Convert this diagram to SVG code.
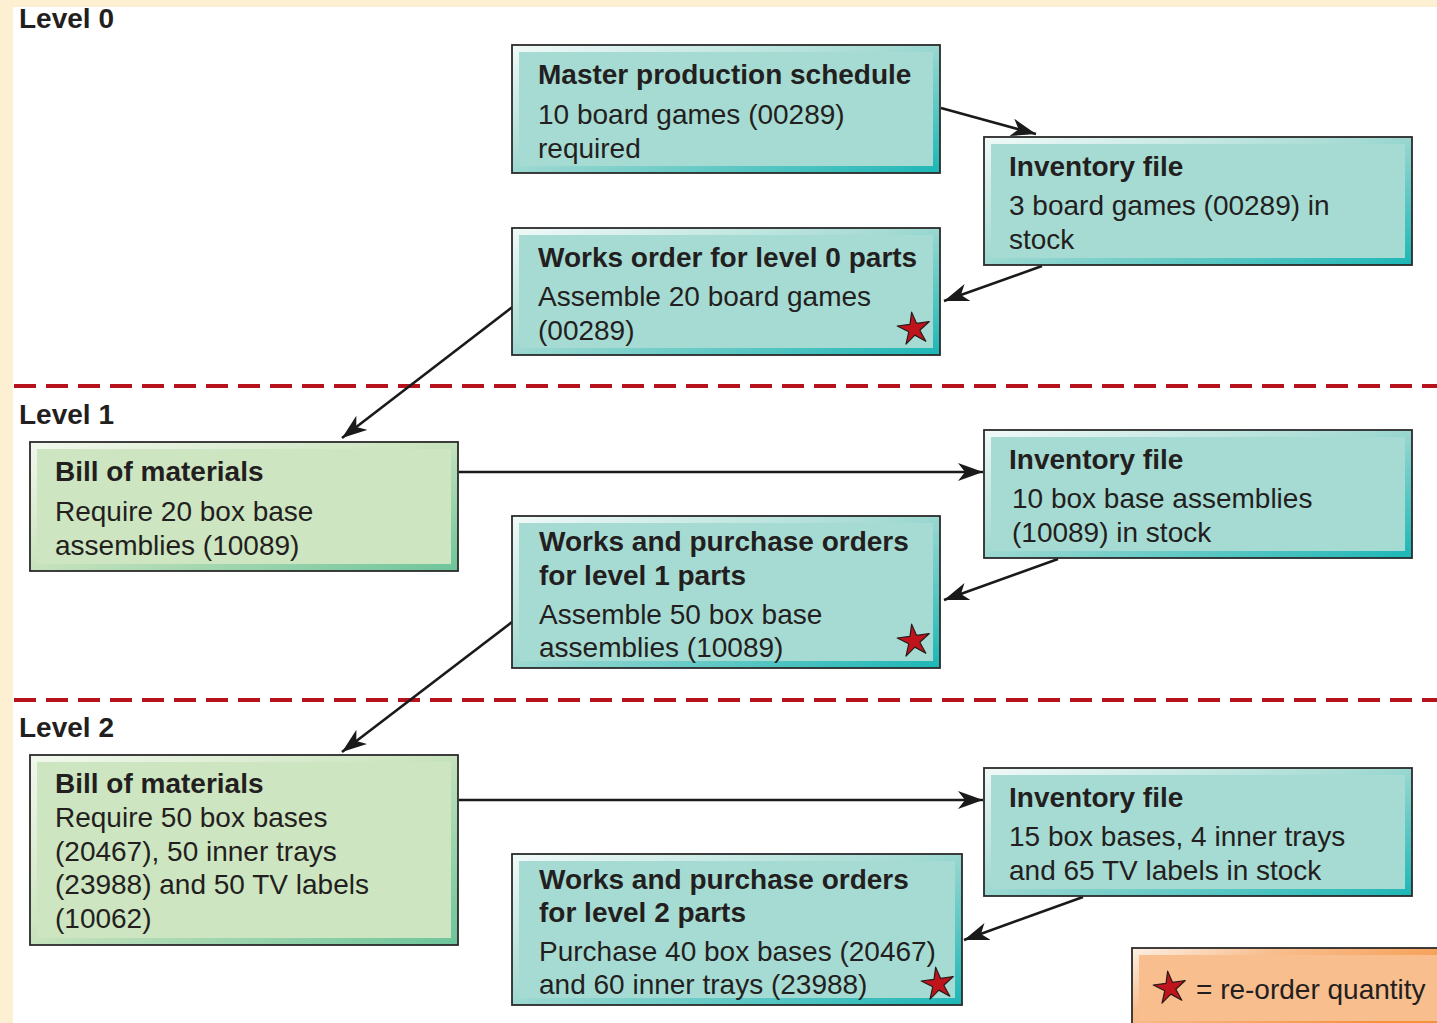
<svg xmlns="http://www.w3.org/2000/svg" width="1437" height="1023" viewBox="0 0 1437 1023">
  <defs>
    <linearGradient id="tealFrame" x1="0" y1="0" x2="1" y2="1">
      <stop offset="0" stop-color="#f2faf9"/>
      <stop offset="0.45" stop-color="#a6dbd3"/>
      <stop offset="1" stop-color="#1bb6b6"/>
    </linearGradient>
    <linearGradient id="greenFrame" x1="0" y1="0" x2="1" y2="1">
      <stop offset="0" stop-color="#f2f8ee"/>
      <stop offset="0.45" stop-color="#cde5c0"/>
      <stop offset="1" stop-color="#6cc49a"/>
    </linearGradient>
    <linearGradient id="orangeFrame" x1="0" y1="0" x2="1" y2="0.6">
      <stop offset="0" stop-color="#fdf1e6"/>
      <stop offset="0.35" stop-color="#f9be8e"/>
      <stop offset="1" stop-color="#f5913c"/>
    </linearGradient>
    <marker id="arrow" markerUnits="userSpaceOnUse" markerWidth="28" markerHeight="20" refX="25" refY="9" orient="auto">
      <path d="M0,0 L25,9 L0,18 L7,9 Z" fill="#1a1a1a"/>
    </marker>
    <path id="star" transform="rotate(-8)" d="M0,-17 L3.3,-5.2 L16.2,-5.3 L5.6,2.0 L10.0,13.8 L0,6.2 L-10.0,13.8 L-5.6,2.0 L-16.2,-5.3 L-3.3,-5.2 Z" fill="#c0141c" stroke="#2a1a1a" stroke-width="1.2" stroke-linejoin="round"/>
  </defs>
  <style>
    text { font-family: "Liberation Sans", Arial, sans-serif; font-size: 28px; fill: #231f20; }
    .b { font-weight: bold; }
    .outer { stroke: #2b2b2b; stroke-width: 1.8; }
    .teal { fill: url(#tealFrame); }
    .green { fill: url(#greenFrame); }
    .tin { fill: #a6dbd3; }
    .gin { fill: #cde5c0; }
    .conn { stroke: #1a1a1a; stroke-width: 2.6; fill: none; marker-end: url(#arrow); }
    .dash { stroke: #b5121b; stroke-width: 4; stroke-dasharray: 22 10; fill: none; }
  </style>

  <!-- background -->
  <rect x="0" y="0" width="1437" height="1023" fill="#ffffff"/>
  <rect x="0" y="0" width="1437" height="7" fill="#fdf0d2"/>
  <rect x="0" y="0" width="13" height="1023" fill="#fdf0d2"/>

  <!-- level separators and labels -->
  <g id="levels">
    <line class="dash" x1="14" y1="386" x2="1437" y2="386"/>
    <line class="dash" x1="14" y1="700" x2="1437" y2="700"/>
    <text class="b" x="19" y="28">Level 0</text>
    <text class="b" x="19" y="424">Level 1</text>
    <text class="b" x="19" y="737">Level 2</text>
  </g>

  <!-- connectors -->
  <g id="connectors">
    <line class="conn" x1="941" y1="108" x2="1036" y2="134"/>
    <line class="conn" x1="1042" y1="266" x2="944" y2="301"/>
    <line class="conn" x1="515" y1="305" x2="342" y2="438"/>
    <line class="conn" x1="459" y1="472" x2="983" y2="472"/>
    <line class="conn" x1="1058" y1="559" x2="944" y2="600"/>
    <line class="conn" x1="512" y1="622" x2="342" y2="752"/>
    <line class="conn" x1="459" y1="800" x2="983" y2="800"/>
    <line class="conn" x1="1083" y1="897" x2="964" y2="940"/>
  </g>

  <g id="mps">
    <rect class="outer teal" x="512" y="45" width="428" height="128"/>
    <rect class="tin" x="519" y="52" width="414" height="114"/>
    <text class="b" x="538" y="84">Master production schedule</text>
    <text x="538" y="124">10 board games (00289)</text>
    <text x="538" y="158">required</text>
  </g>

  <g id="inventory0">
    <rect class="outer teal" x="984" y="137" width="428" height="128"/>
    <rect class="tin" x="991" y="144" width="414" height="114"/>
    <text class="b" x="1009" y="176">Inventory file</text>
    <text x="1009" y="215">3 board games (00289) in</text>
    <text x="1009" y="249">stock</text>
  </g>

  <g id="works0">
    <rect class="outer teal" x="512" y="228" width="428" height="127"/>
    <rect class="tin" x="519" y="235" width="414" height="113"/>
    <text class="b" x="538" y="267">Works order for level 0 parts</text>
    <text x="538" y="306">Assemble 20 board games</text>
    <text x="538" y="340">(00289)</text>
    <use href="#star" x="914" y="329"/>
  </g>

  <g id="bom1">
    <rect class="outer green" x="30" y="442" width="428" height="129"/>
    <rect class="gin" x="37" y="449" width="414" height="115"/>
    <text class="b" x="55" y="481">Bill of materials</text>
    <text x="55" y="521">Require 20 box base</text>
    <text x="55" y="555">assemblies (10089)</text>
  </g>

  <g id="inventory1">
    <rect class="outer teal" x="984" y="430" width="428" height="128"/>
    <rect class="tin" x="991" y="437" width="414" height="114"/>
    <text class="b" x="1009" y="469">Inventory file</text>
    <text x="1012" y="508">10 box base assemblies</text>
    <text x="1012" y="542">(10089) in stock</text>
  </g>

  <g id="works1">
    <rect class="outer teal" x="512" y="516" width="428" height="152"/>
    <rect class="tin" x="519" y="523" width="414" height="138"/>
    <text class="b" x="539" y="551">Works and purchase orders</text>
    <text class="b" x="539" y="585">for level 1 parts</text>
    <text x="539" y="624">Assemble 50 box base</text>
    <text x="539" y="657">assemblies (10089)</text>
    <use href="#star" x="914" y="641"/>
  </g>

  <g id="bom2">
    <rect class="outer green" x="30" y="755" width="428" height="190"/>
    <rect class="gin" x="37" y="762" width="414" height="176"/>
    <text class="b" x="55" y="793">Bill of materials</text>
    <text x="55" y="827">Require 50 box bases</text>
    <text x="55" y="861">(20467), 50 inner trays</text>
    <text x="55" y="894">(23988) and 50 TV labels</text>
    <text x="55" y="928">(10062)</text>
  </g>

  <g id="inventory2">
    <rect class="outer teal" x="984" y="768" width="428" height="128"/>
    <rect class="tin" x="991" y="775" width="414" height="114"/>
    <text class="b" x="1009" y="807">Inventory file</text>
    <text x="1009" y="846">15 box bases, 4 inner trays</text>
    <text x="1009" y="880">and 65 TV labels in stock</text>
  </g>

  <g id="works2">
    <rect class="outer teal" x="512" y="854" width="450" height="151"/>
    <rect class="tin" x="519" y="861" width="436" height="137"/>
    <text class="b" x="539" y="889">Works and purchase orders</text>
    <text class="b" x="539" y="922">for level 2 parts</text>
    <text x="539" y="961">Purchase 40 box bases (20467)</text>
    <text x="539" y="994">and 60 inner trays (23988)</text>
    <use href="#star" x="938" y="984"/>
  </g>

  <g id="legend">
    <rect class="outer" fill="url(#orangeFrame)" x="1132" y="948" width="310" height="80"/>
    <rect fill="#f9be8e" x="1139" y="955" width="300" height="66"/>
    <use href="#star" x="1170" y="988"/>
    <text x="1196" y="999">= re-order quantity</text>
  </g>
</svg>
